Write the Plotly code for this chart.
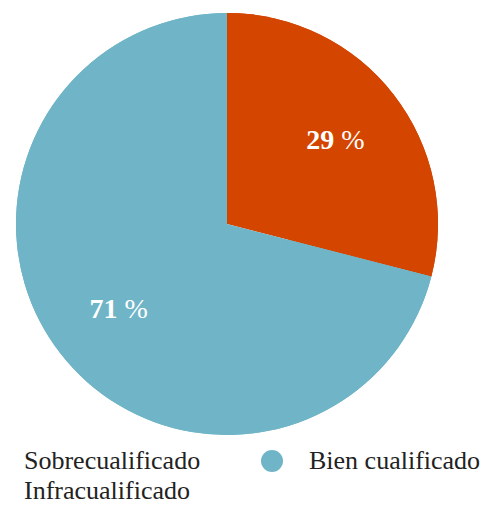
import plotly.graph_objects as go

# Slices of the pie
slice_labels = ["Sobrecualificado", "Bien cualificado"]
slice_values = [29, 71]
slice_colors = ["#D44500", "#6FB4C7"]

# Legend entries (only "Bien cualificado" shows a marker in the reference)
legend_labels = ["Sobrecualificado", "Bien cualificado", "Infracualificado"]
legend_colors = [None, "#6FB4C7", None]

FONT = "Palatino Linotype, Book Antiqua, Liberation Serif, serif"
# page body keeps its default 8px margin, so the figure is 8px smaller
OFF = 8
W, H = 498 - OFF, 508 - OFF


def px(x):
    return (x - OFF) / W


def py(y):
    return 1 - (y - OFF) / H


DOMAIN = dict(x=[px(16), px(438)], y=[py(435), py(13)])

fig = go.Figure()

# full pie for the fill
fig.add_trace(go.Pie(
    labels=slice_labels, values=slice_values,
    marker=dict(colors=slice_colors, line=dict(width=0)),
    sort=False, direction="clockwise", rotation=0,
    textinfo="none", domain=DOMAIN, showlegend=False, hoverinfo="label+percent",
))
# ring on top, only to push the percentage labels outward
fig.add_trace(go.Pie(
    labels=slice_labels, values=slice_values, hole=0.3,
    marker=dict(colors=slice_colors, line=dict(width=0)),
    sort=False, direction="clockwise", rotation=0,
    texttemplate="<b>%{value}</b> %", textposition="inside",
    insidetextorientation="horizontal",
    textfont=dict(family=FONT, size=28, color="white"),
    domain=DOMAIN, showlegend=False, hoverinfo="label+percent",
))

# legend drawn by hand: two columns, wraps after the second item
legend_x = [22, 307]
legend_y = [460, 490]
for i, (name, color) in enumerate(zip(legend_labels, legend_colors)):
    col, row = i % 2, i // 2
    fig.add_annotation(
        text=name, xref="paper", yref="paper",
        x=px(legend_x[col]), y=py(legend_y[row]),
        xanchor="left", yanchor="middle", showarrow=False,
        font=dict(family=FONT, size=26, color="#222222"),
    )
    if color:
        fig.add_shape(
            type="circle", xref="paper", yref="paper",
            xsizemode="pixel", ysizemode="pixel",
            xanchor=px(legend_x[col] - 35), yanchor=py(legend_y[row] + 1),
            x0=-11, x1=11, y0=-11, y1=11,
            fillcolor=color, line=dict(width=0),
        )

fig.update_layout(
    width=W, height=H,
    margin=dict(l=0, r=0, t=0, b=0),
    paper_bgcolor="white", plot_bgcolor="white",
    font=dict(family=FONT, size=20, color="#222222"),
)

fig.write_html("out.html")
